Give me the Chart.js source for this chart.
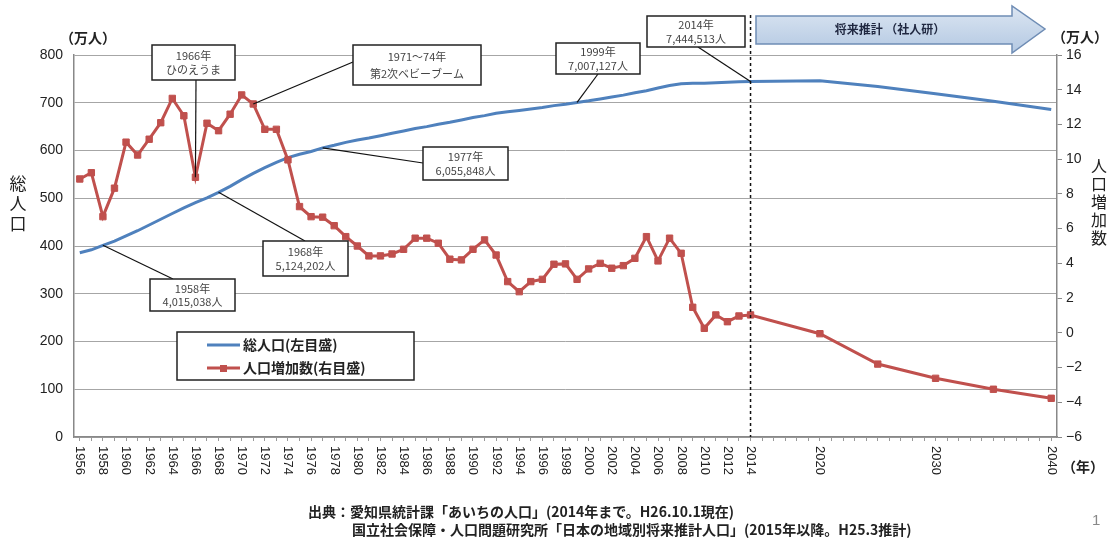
<!DOCTYPE html>
<html lang="ja">
<head>
<meta charset="utf-8">
<title>愛知県の人口の推移</title>
<script src="https://cdn.jsdelivr.net/npm/chart.js@4.4.1/dist/chart.umd.min.js"></script>
<style>
  html, body { margin: 0; padding: 0; background: #fff; }
  #wrap { position: relative; width: 1109px; height: 540px; }
</style>
</head>
<body>
<div id="wrap"><canvas id="pop-chart"></canvas></div>
<script>
// カテゴリ（年）
const years = [
  1956, 1957, 1958, 1959, 1960, 1961, 1962, 1963, 1964, 1965,
  1966, 1967, 1968, 1969, 1970, 1971, 1972, 1973, 1974, 1975,
  1976, 1977, 1978, 1979, 1980, 1981, 1982, 1983, 1984, 1985,
  1986, 1987, 1988, 1989, 1990, 1991, 1992, 1993, 1994, 1995,
  1996, 1997, 1998, 1999, 2000, 2001, 2002, 2003, 2004, 2005,
  2006, 2007, 2008, 2009, 2010, 2011, 2012, 2013, 2014, 2015,
  2016, 2017, 2018, 2019, 2020, 2021, 2022, 2023, 2024, 2025,
  2026, 2027, 2028, 2029, 2030, 2031, 2032, 2033, 2034, 2035,
  2036, 2037, 2038, 2039, 2040
]

// 目盛ラベルを表示する年
const labelYears = [
  1956, 1958, 1960, 1962, 1964, 1966, 1968, 1970, 1972, 1974,
  1976, 1978, 1980, 1982, 1984, 1986, 1988, 1990, 1992, 1994,
  1996, 1998, 2000, 2002, 2004, 2006, 2008, 2010, 2012, 2014,
  2020, 2030, 2040
]

// 総人口（万人）1956〜2014
const totalPopHist = [
  386, 392, 401.5, 410, 421, 432, 444, 456, 468, 480,
  491, 501, 512.4, 525, 539, 552, 564, 575, 585, 592,
  598, 605.6, 611, 617, 622, 626, 631, 636, 641, 646,
  650, 655, 659, 664, 669, 673, 678, 681, 684, 687,
  690, 694, 697, 700.7, 704, 708, 712, 716, 721, 725,
  731, 736, 740, 741, 741, 742, 743, 744, 744.5
]

// 人口増加数（万人）1956〜2014
const increaseHist = [
  8.86, 9.22, 6.69, 8.33, 10.98, 10.24, 11.15, 12.10, 13.50, 12.50,
  8.96, 12.07, 11.64, 12.59, 13.70, 13.18, 11.72, 11.72, 9.96, 7.27,
  6.69, 6.66, 6.17, 5.54, 5.00, 4.43, 4.43, 4.54, 4.81, 5.45,
  5.45, 5.16, 4.24, 4.20, 4.81, 5.35, 4.48, 2.95, 2.37, 2.95,
  3.08, 3.95, 3.97, 3.08, 3.68, 4.00, 3.72, 3.87, 4.29, 5.54,
  4.14, 5.45, 4.58, 1.47, 0.26, 1.03, 0.64, 0.97, 1.03
]

// 将来推計（社人研）
const projYears = [2020, 2025, 2030, 2035, 2040]
const projTotal = [746, 734, 719, 703, 686]
const projIncrease = [-0.05, -1.8, -2.62, -3.25, -3.77]

// 軸の目盛
const leftTicks = [0, 100, 200, 300, 400, 500, 600, 700, 800]
const rightTicks = [-6, -4, -2, 0, 2, 4, 6, 8, 10, 12, 14, 16]

// 吹き出し
const notes = [
  { year: 1966, series: "inc", lines: ["1966年", "ひのえうま"], box: [152, 45, 83, 35], anchor: [196, 80] },
  { year: 1971, series: "inc", lines: ["1971～74年", "第2次ベビーブーム"], box: [353, 45, 128, 40], anchor: [353, 62] },
  { year: 1999, series: "total", lines: ["1999年", "7,007,127人"], box: [556, 43, 84, 31], anchor: [598, 74] },
  { year: 2014, series: "total", lines: ["2014年", "7,444,513人"], box: [647, 16, 98, 31], anchor: [698, 47] },
  { year: 1977, series: "total", lines: ["1977年", "6,055,848人"], box: [423, 147, 85, 33], anchor: [423, 163] },
  { year: 1968, series: "total", lines: ["1968年", "5,124,202人"], box: [263, 241, 85, 35], anchor: [305, 241] },
  { year: 1958, series: "total", lines: ["1958年", "4,015,038人"], box: [150, 279, 85, 32], anchor: [173, 279] },
]

const BLUE = "#4f81bd"
const RED = "#c0504d"
const JP = '"Noto Sans CJK JP", "Noto Sans", sans-serif'
const NUM = '"Liberation Sans", Arial, sans-serif'

/**
 * 年次の配列に合わせてデータを並べる
 */
function alignSeries(hist, proj) {
  const out = years.map(() => null)
  hist.forEach((v, i) => { out[i] = v })
  projYears.forEach((y, i) => { out[years.indexOf(y)] = proj[i] })
  return out
}

const totalSeries = alignSeries(totalPopHist, projTotal)
const increaseSeries = alignSeries(increaseHist, projIncrease)

function verticalText(ctx, chars, x, y0, step) {
  chars.split("").forEach((c, i) => ctx.fillText(c, x, y0 + i * step))
}

// 軸ラベル・吹き出し・凡例などの描画
const decorPlugin = {
  id: "decor",
  afterDraw(chart) {
    const ctx = chart.ctx
    const xs = chart.scales.x
    const yl = chart.scales.yL
    const yr = chart.scales.yR
    ctx.save()

    // x軸ラベル（縦書き）
    ctx.fillStyle = "#222"
    ctx.font = "13px " + NUM
    ctx.textAlign = "left"
    ctx.textBaseline = "middle"
    labelYears.forEach((y) => {
      const x = xs.getPixelForValue(years.indexOf(y))
      ctx.save()
      ctx.translate(x, 446)
      ctx.rotate(Math.PI / 2)
      ctx.fillText(String(y), 0, 0)
      ctx.restore()
    })

    // 単位・軸タイトル
    ctx.fillStyle = "#222"
    ctx.font = "bold 14px " + JP
    ctx.textAlign = "center"
    ctx.fillText("（万人）", 88, 38)
    ctx.fillText("（万人）", 1080, 37)
    ctx.fillText("（年）", 1083, 467)
    ctx.font = "17px " + JP
    verticalText(ctx, "総人口", 18, 184, 20)
    ctx.font = "16px " + JP
    verticalText(ctx, "人口増加数", 1099, 166, 18)

    // 2014年の区切り線
    const x2014 = xs.getPixelForValue(years.indexOf(2014))
    ctx.strokeStyle = "#111"
    ctx.lineWidth = 1.5
    ctx.setLineDash([3, 3])
    ctx.beginPath()
    ctx.moveTo(x2014, 15)
    ctx.lineTo(x2014, chart.chartArea.bottom)
    ctx.stroke()
    ctx.setLineDash([])

    // 将来推計の矢印
    const grad = ctx.createLinearGradient(0, 6, 0, 53)
    grad.addColorStop(0, "#dce6f2")
    grad.addColorStop(1, "#b3c8e2")
    ctx.fillStyle = grad
    ctx.strokeStyle = "#6f8db5"
    ctx.lineWidth = 1.5
    ctx.beginPath()
    ctx.moveTo(756, 16)
    ctx.lineTo(1012, 16)
    ctx.lineTo(1012, 6)
    ctx.lineTo(1045, 29)
    ctx.lineTo(1012, 53)
    ctx.lineTo(1012, 44)
    ctx.lineTo(756, 44)
    ctx.closePath()
    ctx.fill()
    ctx.stroke()
    ctx.fillStyle = "#1f2740"
    ctx.font = "bold 12px " + JP
    ctx.fillText("将来推計 （社人研）", 890, 29)

    // 吹き出し
    notes.forEach((n) => {
      const idx = years.indexOf(n.year)
      const px = xs.getPixelForValue(idx)
      const py = n.series === "inc"
        ? yr.getPixelForValue(increaseSeries[idx])
        : yl.getPixelForValue(totalSeries[idx])
      ctx.strokeStyle = "#111"
      ctx.lineWidth = 1.2
      ctx.beginPath()
      ctx.moveTo(px, py)
      ctx.lineTo(n.anchor[0], n.anchor[1])
      ctx.stroke()

      const [bx, by, bw, bh] = n.box
      ctx.fillStyle = "#fff"
      ctx.fillRect(bx, by, bw, bh)
      ctx.strokeStyle = "#222"
      ctx.lineWidth = 1.5
      ctx.strokeRect(bx, by, bw, bh)
      ctx.fillStyle = "#444"
      ctx.font = "11px " + JP
      ctx.fillText(n.lines[0], bx + bw / 2, by + bh * 0.3)
      ctx.fillText(n.lines[1], bx + bw / 2, by + bh * 0.72)
    })

    // 凡例
    ctx.fillStyle = "#fff"
    ctx.fillRect(177, 332, 237, 48)
    ctx.strokeStyle = "#222"
    ctx.lineWidth = 1.5
    ctx.strokeRect(177, 332, 237, 48)
    ctx.lineWidth = 3
    ctx.strokeStyle = BLUE
    ctx.beginPath()
    ctx.moveTo(207, 345)
    ctx.lineTo(240, 345)
    ctx.stroke()
    ctx.strokeStyle = RED
    ctx.beginPath()
    ctx.moveTo(207, 368)
    ctx.lineTo(240, 368)
    ctx.stroke()
    ctx.fillStyle = RED
    ctx.fillRect(220, 365, 7, 7)
    ctx.fillStyle = "#222"
    ctx.font = "bold 14px " + JP
    ctx.textAlign = "left"
    ctx.fillText("総人口(左目盛)", 243, 345)
    ctx.fillText("人口増加数(右目盛)", 243, 368)

    // 出典
    ctx.font = "bold 14px " + JP
    ctx.fillStyle = "#222"
    ctx.fillText("出典：愛知県統計課「あいちの人口」(2014年まで。H26.10.1現在)", 308, 512)
    ctx.fillText("国立社会保障・人口問題研究所「日本の地域別将来推計人口」(2015年以降。H25.3推計)", 352, 530)
    ctx.fillStyle = "#888"
    ctx.font = "15px " + NUM
    ctx.fillText("1", 1092, 521)

    ctx.restore()
  },
}

const ctx = document.getElementById("pop-chart").getContext("2d")

new Chart(ctx, {
  type: "line",
  data: {
    labels: years,
    datasets: [
      {
        label: "総人口(左目盛)",
        data: totalSeries,
        yAxisID: "yL",
        borderColor: BLUE,
        borderWidth: 3,
        pointRadius: 0,
        tension: 0,
        spanGaps: true,
        order: 2,
      },
      {
        label: "人口増加数(右目盛)",
        data: increaseSeries,
        yAxisID: "yR",
        borderColor: RED,
        backgroundColor: RED,
        borderWidth: 3,
        pointStyle: "rect",
        pointRadius: 4.5,
        pointBorderWidth: 1,
        pointBorderColor: RED,
        pointBackgroundColor: RED,
        tension: 0,
        spanGaps: true,
        order: 1,
      },
    ],
  },
  options: {
    responsive: true,
    maintainAspectRatio: false,
    animation: false,
    layout: { padding: { top: 55, left: 0, right: 0, bottom: 0 } },
    plugins: {
      legend: { display: false },
      tooltip: { enabled: false },
    },
    scales: {
      x: {
        type: "category",
        offset: true,
        afterFit: (scale) => { scale.height = 103 },
        grid: {
          offset: false,
          drawOnChartArea: false,
          drawTicks: true,
          tickLength: 4,
          color: "#999",
        },
        border: { color: "#888", width: 1.5 },
        ticks: { display: false, autoSkip: false },
      },
      yL: {
        position: "left",
        min: leftTicks[0],
        max: leftTicks[leftTicks.length - 1],
        afterFit: (scale) => { scale.width = 74 },
        afterBuildTicks: (scale) => { scale.ticks = leftTicks.map((v) => ({ value: v })) },
        grid: { color: "#a6a6a6", lineWidth: 1, drawTicks: false },
        border: { color: "#888", width: 1.5 },
        ticks: {
          padding: 11,
          color: "#222",
          font: { family: NUM, size: 14 },
        },
      },
      yR: {
        position: "right",
        min: rightTicks[0],
        max: rightTicks[rightTicks.length - 1],
        afterFit: (scale) => { scale.width = 52 },
        afterBuildTicks: (scale) => { scale.ticks = rightTicks.map((v) => ({ value: v })) },
        grid: { drawOnChartArea: false, drawTicks: true, tickLength: 5, color: "#888" },
        border: { color: "#888", width: 1.5 },
        ticks: {
          padding: 4,
          color: "#222",
          font: { family: NUM, size: 14 },
          callback: (v) => (v < 0 ? "−" + Math.abs(v) : String(v)),
        },
      },
    },
  },
  plugins: [decorPlugin],
})
</script>
</body>
</html>
